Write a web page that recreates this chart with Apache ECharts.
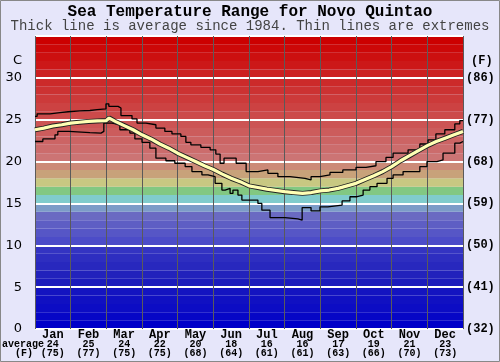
<!DOCTYPE html>
<html>
<head>
<meta charset="utf-8">
<script src="https://cdn.jsdelivr.net/npm/echarts@6/dist/echarts.min.js"></script>
<style>
html,body{margin:0;padding:0;background:#e6e6fa;}
#chart{width:500px;height:362px;}
</style>
</head>
<body>
<div id="chart"></div>
<script>
// ---- data ----
const months = ['Jan','Feb','Mar','Apr','May','Jun','Jul','Aug','Sep','Oct','Nov','Dec'];
const monthAvgC = [24,25,24,22,20,18,16,16,17,19,21,23];
const monthAvgF = [75,77,75,75,68,64,61,61,63,66,70,73];
const cTicks = [0,5,10,15,20,25,30];
const fTickLabels = ['(32)','(41)','(50)','(59)','(68)','(77)','(86)'];

// positions in months from 1 Jan (0..12)
const avgX = [0,0.25,0.5,0.75,1,1.25,1.5,1.75,2,2.08,2.25,2.5,2.75,3,3.25,3.5,3.75,4,4.25,4.5,4.75,5,5.25,5.5,5.75,6,6.25,6.5,6.75,7,7.25,7.5,7.75,8,8.25,8.5,8.75,9,9.25,9.5,9.75,10,10.25,10.5,10.75,11,11.25,11.5,11.75,12];
const avgV = [23.8,24.0,24.25,24.4,24.6,24.7,24.8,24.85,24.9,25.2,24.8,24.3,23.8,23.2,22.7,22.1,21.6,21.0,20.5,20.0,19.5,19.05,18.5,18.0,17.6,17.1,16.9,16.7,16.55,16.4,16.3,16.2,16.3,16.5,16.6,16.8,17.1,17.4,17.85,18.3,18.8,19.4,20.1,20.7,21.3,21.9,22.4,22.8,23.2,23.6];

const maxX = [0,0.06,0.42,0.70,0.93,1.26,1.54,1.74,1.99,2.07,2.33,2.41,2.72,2.86,3.11,3.39,3.64,3.84,4.09,4.23,4.37,4.65,4.91,5.07,5.19,5.30,5.64,5.92,6.25,6.53,6.81,7.15,7.57,7.74,7.99,8.27,8.63,9.00,9.28,9.56,9.84,10.04,10.46,10.79,11.02,11.24,11.49,11.77,11.91,12];
const maxV = [25.4,25.7,25.85,25.95,26.05,26.1,26.2,26.3,26.9,26.6,26.4,25.5,25.1,24.6,24.4,24.0,23.6,23.3,23.0,22.3,22.0,21.7,21.4,20.9,19.8,20.4,19.8,18.8,19.0,18.6,18.2,18.0,17.8,18.2,18.4,18.7,19.0,19.3,19.5,20.0,20.5,21.0,21.4,22.1,22.6,23.3,23.8,24.5,24.9,24.9];

const minX = [0,0.22,0.56,0.64,0.95,1.54,1.85,1.93,2.16,2.38,2.66,2.80,3.00,3.22,3.39,3.67,3.92,4.21,4.40,4.68,4.85,5.05,5.24,5.33,5.47,5.55,5.69,5.80,6.25,6.36,6.59,7.01,7.37,7.49,7.74,7.99,8.21,8.61,8.83,9.03,9.20,9.39,9.59,9.87,10.04,10.32,10.79,10.99,11.27,11.44,11.77,11.91,12];
const minV = [22.4,22.7,23.2,23.6,23.45,23.4,23.6,24.6,24.4,23.8,23.4,22.7,22.3,21.6,20.4,20.1,19.8,19.4,18.8,18.4,18.2,17.4,16.6,16.8,16.2,16.6,16.0,15.4,15.0,14.2,13.3,13.15,13.0,14.5,14.1,14.6,14.8,15.3,15.8,16.0,16.6,17.0,17.4,18.0,18.4,18.8,19.4,20.0,20.2,21.0,22.2,22.4,22.4];

// ---- style: background band colours, one per degree from 0 up to 35 ----
const bandColors = [
 '#0000c8','#0606c6','#0c0cc4','#1010c2','#1414c0',
 '#1c1cbc','#2222bc','#2828be','#2e2ec0','#3434c2',
 '#4c4cc8','#5656c6','#5e5ec4','#6a6ac2','#7c9cc8',
 '#80cccc','#82c882','#c8c882','#c8a27a','#cc8a78',
 '#cc7474','#cc6c6c','#cc6464','#cc5c5c','#cc5454',
 '#cc4a4a','#cc4242','#cc3a3a','#cc3232','#cc2a2a',
 '#cc2020','#cc1818','#cc1010','#cc0808','#cc0000'
];

const pair = (xs, vs) => xs.map((x, i) => [x, vs[i]]);

const chart = echarts.init(document.getElementById('chart'), null, {renderer:'canvas'});
const mono = 'Liberation Mono';
chart.setOption({
  animation: false,
  backgroundColor: '#e6e6fa',
  grid: {left: 35, right: 37, top: 36, bottom: 33},
  xAxis: [
    {type:'value', min:0, max:12, interval:1, position:'bottom',
     axisLine:{show:false}, axisTick:{show:false}, axisLabel:{show:false},
     splitLine:{show:true, lineStyle:{color:'#5a5a5a', width:1}}},
    {type:'category', data: months, position:'bottom', boundaryGap:true,
     axisLine:{show:false}, axisTick:{show:false}, splitLine:{show:false},
     axisLabel:{margin:1, interval:0,
       formatter: (v, i) => '{m|' + v + '}\n{a|' + monthAvgC[i] + '}\n{f|(' + monthAvgF[i] + ')}',
       rich:{
         m:{fontFamily:mono, fontWeight:'bold', fontSize:12, lineHeight:10, color:'#000'},
         a:{fontFamily:mono, fontWeight:'bold', fontSize:10, lineHeight:9, color:'#000'},
         f:{fontFamily:mono, fontWeight:'bold', fontSize:10, lineHeight:9, color:'#000'}
       }}}
  ],
  yAxis: [
    {type:'value', min:0, max:35, interval:5, position:'left',
     axisLine:{show:false}, axisTick:{show:false},
     axisLabel:{margin:13, color:'#000', fontFamily:'DejaVu Sans', fontSize:13,
       formatter: v => cTicks.indexOf(v) >= 0 ? String(v) : ''},
     splitLine:{show:true, lineStyle:{color:'#ffffff', width:2}}},
    {type:'value', min:0, max:35, interval:5, position:'right',
     axisLine:{show:false}, axisTick:{show:false}, splitLine:{show:false},
     axisLabel:{margin:3, color:'#000', fontFamily:mono, fontWeight:'bold', fontSize:12,
       formatter: v => { const i = cTicks.indexOf(v); return i >= 0 ? fTickLabels[i] : ''; }}}
  ],
  series: [
    {type:'line', name:'bands', data:[], z:-1, silent:true,
     markArea:{silent:true, z:-1,
       data: bandColors.map((c, i) => [{yAxis:i, itemStyle:{color:c}}, {yAxis:i+1}])}},
    {type:'line', name:'max', data: pair(maxX, maxV), step:'end', symbol:'none', silent:true,
     lineStyle:{color:'#000', width:1.3}, z:3},
    {type:'line', name:'min', data: pair(minX, minV), step:'end', symbol:'none', silent:true,
     lineStyle:{color:'#000', width:1.3}, z:3},
    {type:'line', name:'avgOutline', data: pair(avgX, avgV), symbol:'none', silent:true,
     lineStyle:{color:'#222', width:5}, z:4},
    {type:'line', name:'avg', data: pair(avgX, avgV), symbol:'none', silent:true,
     lineStyle:{color:'#ffffb4', width:3.2}, z:5}
  ],
  graphic: [
    {type:'text', left:'center', top:4, style:{text:'Sea Temperature Range for Novo Quintao',
      font:'bold 16px "Liberation Mono"', fill:'#000'}},
    {type:'text', left:'center', top:19, style:{text:'Thick line is average since 1984. Thin lines are extremes',
      font:'14px "Liberation Mono"', fill:'#444'}},
    {type:'text', left:13, top:54, style:{text:'C', font:'13px "DejaVu Sans"', fill:'#000'}},
    {type:'text', left:471, top:55, style:{text:'(F)', font:'bold 12px "Liberation Mono"', fill:'#000'}},
    {type:'text', left:2, top:339, style:{text:'average', font:'bold 10px "Liberation Mono"', fill:'#000'}},
    {type:'text', left:15, top:348, style:{text:'(F)', font:'bold 10px "Liberation Mono"', fill:'#000'}},
    {type:'rect', shape:{x:0.5, y:0.5, width:499, height:361}, style:{fill:'none', stroke:'#888', lineWidth:1}, silent:true}
  ]
});
</script>
</body>
</html>
